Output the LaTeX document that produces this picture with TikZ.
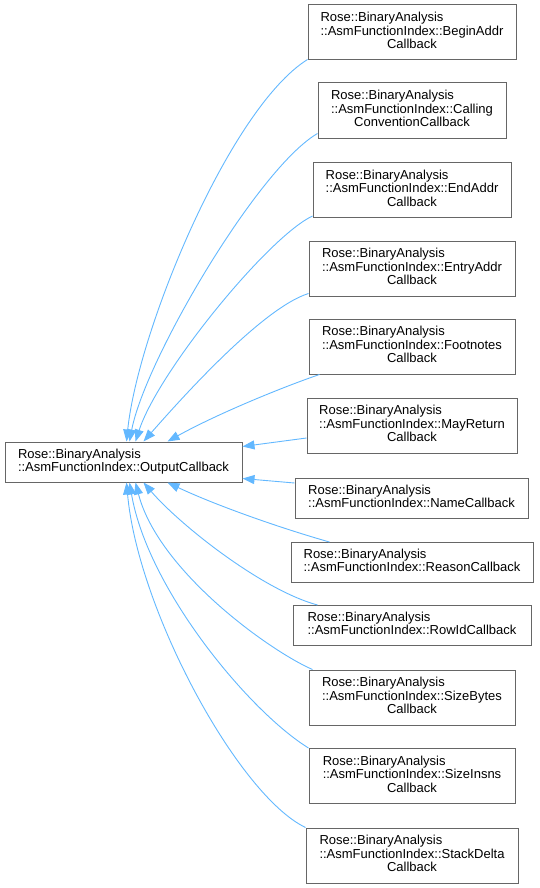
\documentclass[tikz,border=0pt]{standalone}
\usepackage{fontspec}
\setmainfont{Liberation Sans}
\usetikzlibrary{arrows.meta,calc}
\definecolor{edgeblue}{HTML}{63B8FF}
\definecolor{boxgray}{HTML}{666666}
\newcommand\cbthree[2]{\begin{tabular}{@{}l@{}}Rose::BinaryAnalysis\\::AsmFunctionIndex::#1\\\multicolumn{1}{@{}c@{}}{#2}\end{tabular}}
\newcommand\cbtwo[1]{\begin{tabular}{@{}l@{}}Rose::BinaryAnalysis\\::AsmFunctionIndex::#1\end{tabular}}
\tikzset{
  cls/.style={draw=boxgray, line width=1pt, fill=white, inner sep=0pt,
    font=\fontsize{13}{13}\selectfont, anchor=center},
  inh/.style={draw=edgeblue, line width=0.9pt,
    -{Triangle[length=12pt,width=9pt,fill=edgeblue]}}
}
\begin{document}
\begin{tikzpicture}[x=1pt,y=-1pt]
\useasboundingbox (0,0) rectangle (539,888);
\node[cls, minimum width=237pt, minimum height=40pt] (base) at (123.5,462) {\cbtwo{OutputCallback}};
\node[cls, minimum width=208pt, minimum height=55pt] (n1) at (412,32.5) {\cbthree{BeginAddr}{Callback}};
\node[cls, minimum width=188pt, minimum height=55pt] (n2) at (412,110.5) {\cbthree{Calling}{ConventionCallback}};
\node[cls, minimum width=198pt, minimum height=55pt] (n3) at (412,190) {\cbthree{EndAddr}{Callback}};
\node[cls, minimum width=206pt, minimum height=55pt] (n4) at (412,268.5) {\cbthree{EntryAddr}{Callback}};
\node[cls, minimum width=206pt, minimum height=55pt] (n5) at (412,346.5) {\cbthree{Footnotes}{Callback}};
\node[cls, minimum width=210pt, minimum height=55pt] (n6) at (412,425.5) {\cbthree{MayReturn}{Callback}};
\node[cls, minimum width=233pt, minimum height=40pt] (n7) at (411.5,498) {\cbtwo{NameCallback}};
\node[cls, minimum width=242pt, minimum height=40pt] (n8) at (412,562.5) {\cbtwo{ReasonCallback}};
\node[cls, minimum width=238pt, minimum height=40pt] (n9) at (412,625.5) {\cbtwo{RowIdCallback}};
\node[cls, minimum width=206pt, minimum height=55pt] (n10) at (412,697.5) {\cbthree{SizeBytes}{Callback}};
\node[cls, minimum width=206pt, minimum height=55pt] (n11) at (412,776) {\cbthree{SizeInsns}{Callback}};
\node[cls, minimum width=212pt, minimum height=55pt] (n12) at (412,855.5) {\cbthree{StackDelta}{Callback}};

\draw[inh] ($(n1.south west)+(0,-1)$) .. controls (230,108) and (138,330) .. ($(base.north west)+(122,0)$);
\draw[inh] ($(n2.south west)+(0,-5)$) .. controls (258,168) and (145,360) .. ($(base.north west)+(125,0)$);
\draw[inh] ($(n3.south west)+(0,-2)$) .. controls (268,237) and (158,372) .. ($(base.north west)+(131,0)$);
\draw[inh] ($(n4.south west)+(0,-3)$) .. controls (262,308) and (180,400) .. ($(base.north west)+(139,0)$);
\draw[inh] ($(n5.south west)+(11,0)$) .. controls (280,388) and (215,415) .. ($(base.north west)+(163,0)$);
\draw[inh] ($(n6.west)+(0,12.5)$) -- ($(base.north east)+(0,5)$);
\draw[inh] ($(n7.west)+(0,-15)$) -- ($(base.south east)+(0,-4)$);
\draw[inh] ($(n8.north west)+(39,0)$) .. controls (280,528) and (215,505) .. ($(base.south west)+(163,0)$);
\draw[inh] ($(n9.north west)+(25,0)$) .. controls (262,590) and (180,525) .. ($(base.south west)+(139,0)$);
\draw[inh] ($(n10.north west)+(4,0)$) .. controls (268,650) and (158,570) .. ($(base.south west)+(131,0)$);
\draw[inh] (n11.north west) .. controls (250,712) and (148,590) .. ($(base.south west)+(125,0)$);
\draw[inh] (n12.north west) .. controls (238,795) and (138,610) .. ($(base.south west)+(122,0)$);
\end{tikzpicture}
\end{document}
